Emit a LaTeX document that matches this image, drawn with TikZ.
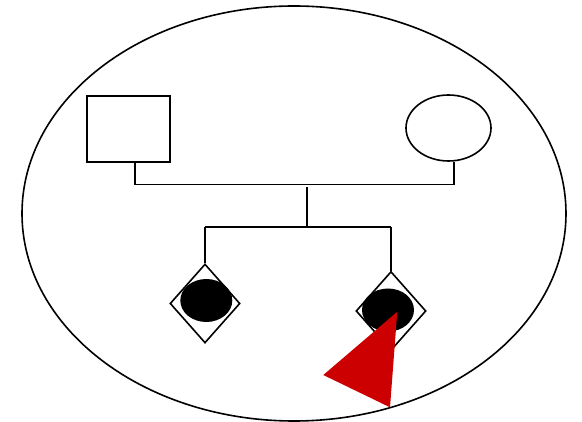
\documentclass[tikz,border=0pt]{standalone}
\usetikzlibrary{shapes.geometric}
\begin{document}
\begin{tikzpicture}[x=1pt,y=-1pt,
  thinline/.style={line width=1.6pt},
  thickline/.style={line width=2.4pt},
  malebox/.style={draw,thinline,rectangle,inner sep=0,minimum width=83pt,minimum height=66pt},
  femaleoval/.style={draw,thinline,ellipse,inner sep=0,minimum width=85pt,minimum height=66pt},
  childdiamond/.style={draw,thinline,diamond,inner sep=0,minimum width=70pt,minimum height=79pt},
  affected/.style={fill=black,ellipse,inner sep=0,minimum width=52pt,minimum height=43pt}
]
\useasboundingbox (0,0) rectangle (582,422);
\node[draw,thinline,ellipse,inner sep=0,minimum width=544pt,minimum height=415pt] (outer) at (294,213.5) {};
\node[malebox] (father) at (128.5,129) {};
\node[femaleoval] (mother) at (448.5,128) {};
\coordinate (fj) at (135,184.5);
\coordinate (mj) at (454,184.5);
\draw[thinline] (father.south -| fj) -- (fj) -- (mj) -- (mother.south -| mj);
\coordinate (dtop) at (306.7,187);
\coordinate (dbar) at (306.7,227);
\draw[thickline] (dtop) -- (dbar);
\node[childdiamond] (c1) at (205,303.5) {};
\node[childdiamond] (c2) at (391,311) {};
\node[affected] (a1) at (206.3,300.5) {};
\node[affected] (a2) at (388,310) {};
\draw[thickline] (c1.north |- dbar) -- (c2.north |- dbar);
\draw[thinline] (c1.north |- dbar) -- (c1.north);
\draw[thinline] (c2.north |- dbar) -- (c2.north);
\fill[fill={rgb,255:red,204;green,0;blue,0}] (397.3,311.7) -- (323.3,375) -- (390,407.3) -- cycle;
\end{tikzpicture}
\end{document}
